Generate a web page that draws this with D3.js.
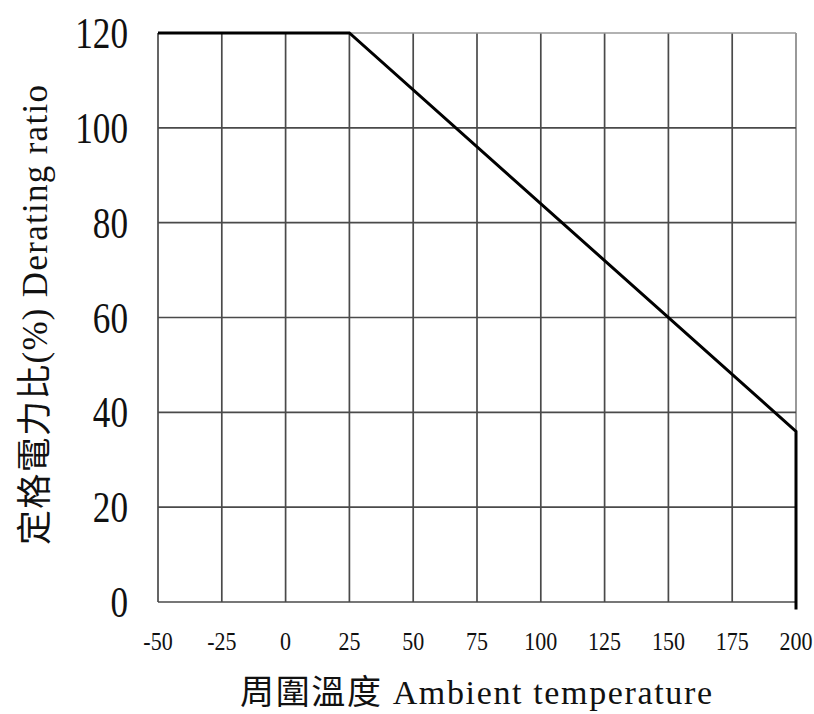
<!DOCTYPE html>
<html>
<head>
<meta charset="utf-8">
<script src="https://cdn.jsdelivr.net/npm/d3@7"></script>
<style>
  body { margin: 0; background: #fff; }
  text { font-family: "Liberation Serif", "Noto Sans CJK TC", serif; fill: #111; }
</style>
</head>
<body>
<div id="chart"></div>
<script>
// derating curve: temperature (°C) vs rated power ratio (%)
let temps = [-50, 25, 200, 200]
let ratios = [120, 120, 36, -1.6]

let xTicks = [-50, -25, 0, 25, 50, 75, 100, 125, 150, 175, 200]
let yTicks = [0, 20, 40, 60, 80, 100, 120]

let xTitle = '周圍溫度  Ambient temperature'
let yTitle = '定格電力比(%) Derating ratio'

let width = 814, height = 714
let margin = {top: 33, right: 18, bottom: 112, left: 158}

let svg = d3.select('#chart').append('svg')
  .attr('width', width)
  .attr('height', height)

let x = d3.scaleLinear()
  .domain([-50, 200])
  .range([margin.left, width - margin.right])

let y = d3.scaleLinear()
  .domain([0, 120])
  .range([height - margin.bottom, margin.top])

// grid
let grid = svg.append('g').attr('class', 'grid')

grid.selectAll('.vline')
  .data(xTicks)
  .enter().append('line')
  .attr('class', 'vline')
  .attr('x1', d => x(d))
  .attr('x2', d => x(d))
  .attr('y1', y(0))
  .attr('y2', y(120))
  .style('stroke', d => d === 200 ? '#888' : '#4a4a4a')
  .style('stroke-width', 1.7)

grid.selectAll('.hline')
  .data(yTicks)
  .enter().append('line')
  .attr('class', 'hline')
  .attr('x1', x(-50))
  .attr('x2', x(200))
  .attr('y1', d => y(d))
  .attr('y2', d => y(d))
  .style('stroke', d => d === 120 ? '#999' : '#4a4a4a')
  .style('stroke-width', 1.7)

// tick labels
svg.append('g').selectAll('text')
  .data(yTicks)
  .enter().append('text')
  .attr('transform', d => `translate(${x(-50) - 30},${y(d) + 15}) scale(0.8,1)`)
  .attr('text-anchor', 'end')
  .style('font-size', '44px')
  .text(d => d)

svg.append('g').selectAll('text')
  .data(xTicks)
  .enter().append('text')
  .attr('transform', d => `translate(${x(d)},${y(0) + 48}) scale(0.88,1)`)
  .attr('text-anchor', 'middle')
  .style('font-size', '25px')
  .text(d => d)

// curve
let line = d3.line()
  .x(d => x(d[0]))
  .y(d => y(d[1]))

svg.append('path')
  .datum(d3.zip(temps, ratios))
  .attr('d', line)
  .style('fill', 'none')
  .style('stroke', '#000')
  .style('stroke-width', 3)
  .style('stroke-linejoin', 'miter')

// axis titles
svg.append('text')
  .attr('x', 240)
  .attr('y', 704)
  .style('font-size', '34px')
  .attr('textLength', 472)
  .text(xTitle)

svg.append('text')
  .attr('transform', `translate(47,545) rotate(-90)`)
  .style('font-size', '35px')
  .attr('textLength', 460)
  .text(yTitle)
</script>
</body>
</html>
